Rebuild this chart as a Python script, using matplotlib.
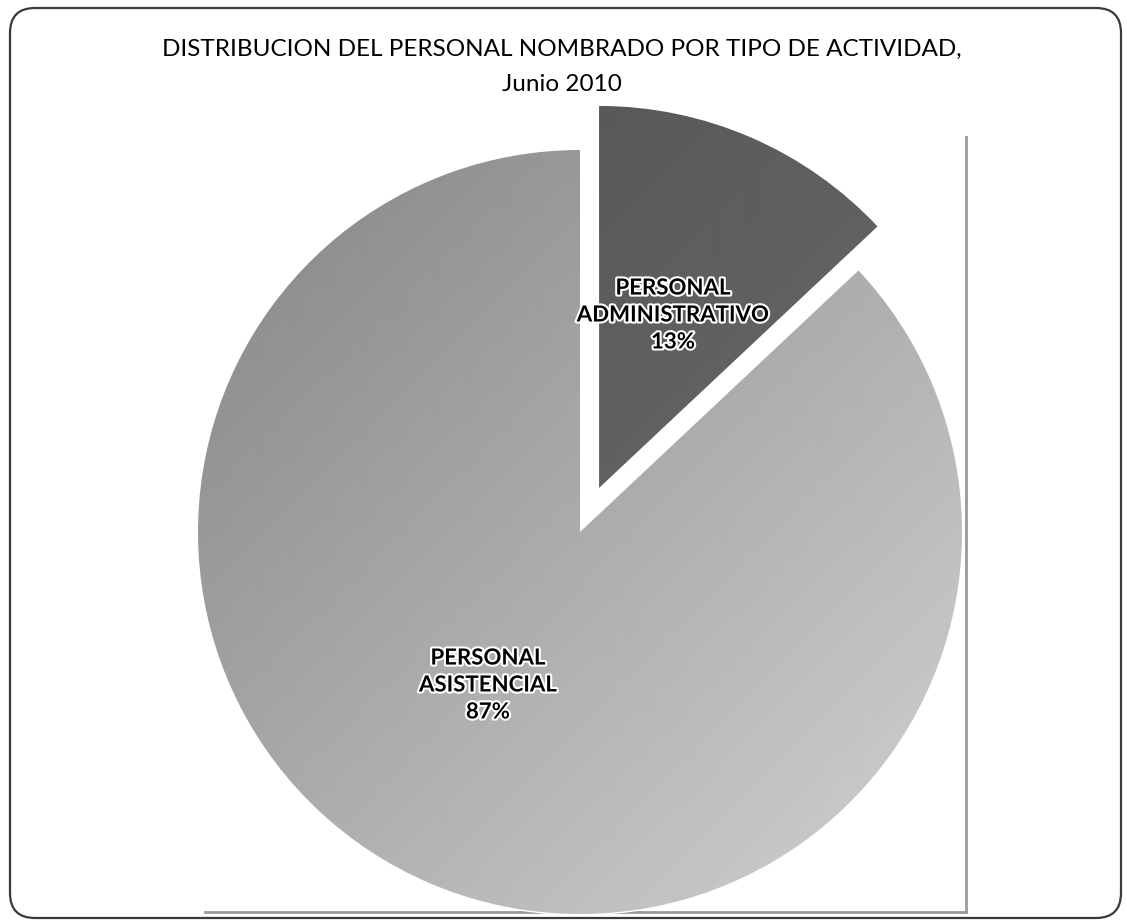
import numpy as np
import matplotlib.pyplot as plt
from matplotlib.patches import FancyBboxPatch
import matplotlib.patheffects as pe

# Personal nombrado por tipo de actividad, junio 2010
categorias = ['PERSONAL\nADMINISTRATIVO', 'PERSONAL\nASISTENCIAL']
porcentajes = [13, 87]

titulo = 'DISTRIBUCION DEL PERSONAL NOMBRADO POR TIPO DE ACTIVIDAD,\nJunio 2010'

W, H = 1127, 921
fig = plt.figure(figsize=(W / 100, H / 100), dpi=100)
ax = fig.add_axes([0, 0, 1, 1])
ax.set_xlim(0, W)
ax.set_ylim(0, H)
ax.set_aspect('equal')
ax.axis('off')

plt.rcParams['font.family'] = ['Lato', 'DejaVu Sans']

# marco exterior redondeado
marco = FancyBboxPatch((10, 3), 1111, 910, boxstyle='round,pad=0,rounding_size=25',
                       fill=False, edgecolor='#3a3a3a', linewidth=1.6)
ax.add_patch(marco)

# bordes del area de trazado
ax.plot([966, 966], [H - 137, H - 912], color='#9a9a9a', lw=2, zorder=1)
ax.plot([205, 966], [H - 912, H - 912], color='#9a9a9a', lw=2, zorder=1)

centro = (580, H - 532)
radio = 382
wedges, textos = ax.pie(porcentajes, labels=[f'{c}\n{p}%' for c, p in zip(categorias, porcentajes)],
                        startangle=90, counterclock=False, explode=[48, 0],
                        center=centro, radius=radio, labeldistance=0.48,
                        wedgeprops=dict(edgecolor='white', linewidth=2),
                        textprops=dict(fontsize=16, fontweight='bold', color='black',
                                       ha='center', va='center', linespacing=1.35))
ax.set_xlim(0, W)
ax.set_ylim(0, H)

# relleno degradado (oscuro arriba-izquierda, claro abajo-derecha)
yy, xx = np.mgrid[0:H:2, 0:W:2]
t = ((xx - 200) / 800 + (H - yy - 150) / 800) / 2
t = np.clip(t, 0, 1)
tonos = [(0.32, 0.45), (0.52, 0.84)]
for w, (a, b) in zip(wedges, tonos):
    w.set_facecolor((a + b) / 2 * np.ones(3))
    img = ax.imshow(a + (b - a) * t, cmap='gray', vmin=0, vmax=1, extent=(0, W, H, 0),
                    origin='upper', zorder=w.get_zorder() + 0.1, interpolation='bilinear')
    img.set_clip_path(w)

posiciones = [(673, H - 315), (488, H - 685)]
for txt, pos in zip(textos, posiciones):
    txt.set_position(pos)
    txt.set_zorder(5)
    txt.set_path_effects([pe.withStroke(linewidth=3, foreground='white')])

ax.text(562, H - 67, titulo, ha='center', va='center', fontsize=17.5,
        color='black', linespacing=1.85)

fig.savefig('out.png', dpi=100)
